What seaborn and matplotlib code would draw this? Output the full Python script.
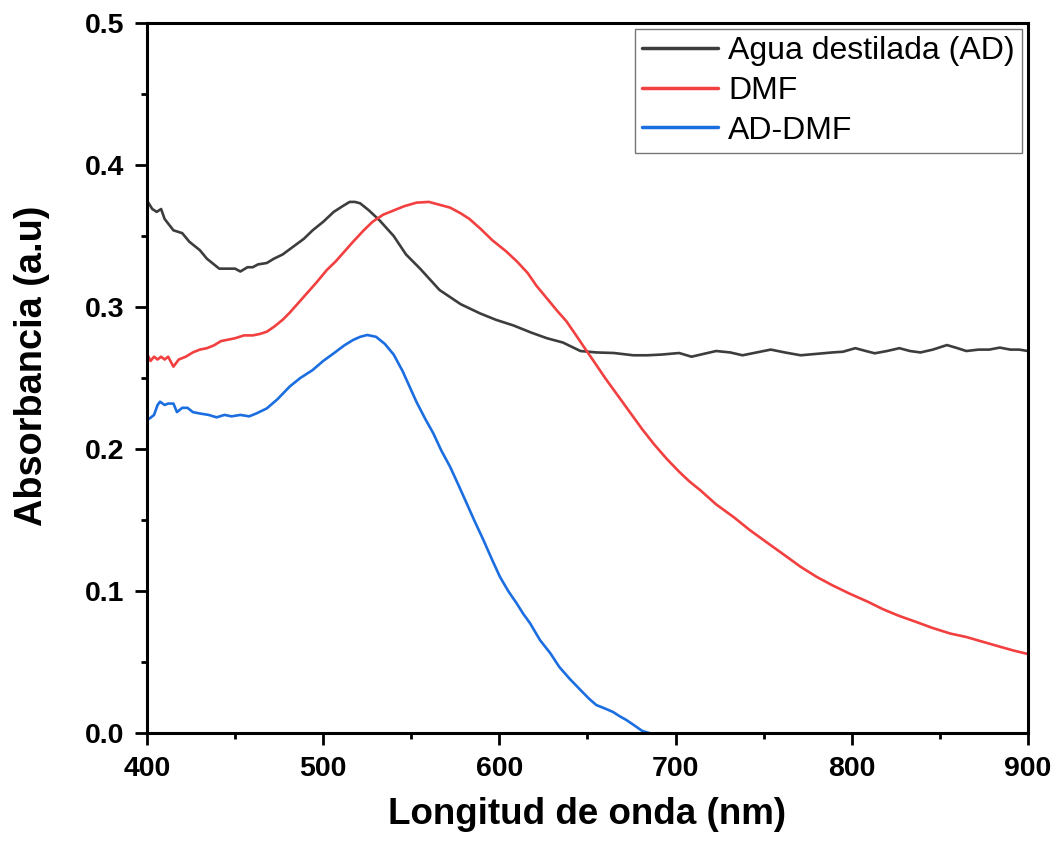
import numpy as np
import pandas as pd
import matplotlib
matplotlib.use("Agg")
import matplotlib.pyplot as plt
from matplotlib.ticker import MultipleLocator
import seaborn as sns

# ---- data ----
wl_ad = [400, 403, 405.5, 408, 410, 415, 420, 424, 430, 434, 438, 441, 446, 450, 453, 457,
         460, 463, 468, 472, 477, 483, 489, 494, 500, 506, 511, 515, 518, 521, 526, 532,
         540, 547, 555, 566, 578, 589, 598, 608, 618, 627, 636, 646, 655, 665, 676, 684,
         692, 702, 709, 716, 723, 731, 738, 746, 754, 762, 771, 780, 789, 795, 802, 808,
         813, 820, 827, 833, 839, 846, 854, 860, 865, 872, 878, 884, 890, 895, 900]
abs_ad = [0.375, 0.369, 0.367, 0.369, 0.362, 0.354, 0.352, 0.346, 0.340, 0.334, 0.330, 0.327,
          0.327, 0.327, 0.325, 0.328, 0.328, 0.330, 0.331, 0.334, 0.337, 0.3425, 0.348, 0.354,
          0.360, 0.367, 0.371, 0.374, 0.374, 0.373, 0.368, 0.361, 0.350, 0.337, 0.327, 0.312,
          0.302, 0.2955, 0.291, 0.287, 0.282, 0.278, 0.275, 0.269, 0.268, 0.2676, 0.266, 0.266,
          0.2665, 0.2676, 0.265, 0.267, 0.269, 0.268, 0.266, 0.268, 0.270, 0.268, 0.266, 0.267,
          0.268, 0.2685, 0.271, 0.269, 0.2674, 0.269, 0.271, 0.269, 0.268, 0.270, 0.2732, 0.271,
          0.269, 0.270, 0.270, 0.2714, 0.270, 0.270, 0.269]

wl_dmf = [400, 402, 404, 406, 408, 410, 412, 415, 418, 422, 426, 430, 434, 438, 442, 446,
          450, 455, 460, 464, 468, 472, 477, 481, 486, 491, 496, 502, 507, 512, 517, 523,
          528, 534, 540, 546, 553, 560, 566, 572, 578, 583, 589, 596, 604, 610, 616, 621,
          627, 633, 638, 643, 649, 654, 660, 667, 674, 681, 688, 695, 702, 708, 714, 723,
          733, 742, 752, 761, 771, 780, 789, 799, 809, 818, 827, 837, 846, 856, 865, 875,
          884, 892, 900]
abs_dmf = [0.267, 0.262, 0.265, 0.263, 0.265, 0.263, 0.265, 0.258, 0.263, 0.265, 0.268, 0.270,
           0.271, 0.273, 0.276, 0.277, 0.278, 0.280, 0.280, 0.281, 0.2826, 0.286, 0.291, 0.296,
           0.303, 0.310, 0.317, 0.326, 0.332, 0.339, 0.346, 0.354, 0.360, 0.365, 0.368, 0.371,
           0.3735, 0.374, 0.372, 0.370, 0.366, 0.362, 0.3554, 0.347, 0.339, 0.332, 0.324, 0.315,
           0.306, 0.297, 0.290, 0.281, 0.270, 0.261, 0.250, 0.238, 0.226, 0.214, 0.203, 0.193,
           0.184, 0.177, 0.171, 0.161, 0.152, 0.143, 0.134, 0.126, 0.117, 0.110, 0.104, 0.098,
           0.0925, 0.087, 0.0824, 0.078, 0.0739, 0.070, 0.0676, 0.064, 0.0608, 0.058, 0.0556]

wl_mix = [400, 402, 404, 406, 407.4, 410, 412, 415, 417, 420, 423, 426, 430, 435, 439.5, 444,
          448, 453, 458, 462, 468, 474, 481, 487, 494, 500, 506, 512, 517, 521, 525, 530,
          535, 540, 545, 549, 553, 558, 562.5, 567, 572, 577, 581.4, 586, 590.9, 595.5, 600.3,
          605, 609.8, 613.5, 617.4, 623, 629, 634, 640, 646, 651, 655, 660, 664.5, 668, 672,
          677, 681, 685]
abs_mix = [0.2204, 0.222, 0.224, 0.231, 0.2333, 0.231, 0.232, 0.232, 0.226, 0.229, 0.229, 0.226,
           0.225, 0.224, 0.2223, 0.224, 0.223, 0.224, 0.223, 0.225, 0.2286, 0.235, 0.244, 0.250,
           0.2556, 0.262, 0.2674, 0.273, 0.2768, 0.279, 0.2803, 0.279, 0.274, 0.2665, 0.255,
           0.244, 0.233, 0.221, 0.211, 0.199, 0.1875, 0.174, 0.1618, 0.149, 0.136, 0.123, 0.110,
           0.100, 0.0913, 0.084, 0.0773, 0.0655, 0.056, 0.0465, 0.038, 0.0303, 0.024, 0.0197,
           0.0172, 0.0148, 0.012, 0.0092, 0.005, 0.0015, 0.0]

labels = ["Agua destilada (AD)", "DMF", "AD-DMF"]
colors = ["#3d3d3d", "#f23f3f", "#1b6ee0"]
x_ticks = [400, 500, 600, 700, 800, 900]
y_ticks = [0.0, 0.1, 0.2, 0.3, 0.4, 0.5]

df = pd.concat([
    pd.DataFrame({"wl": wl_ad, "abs": abs_ad, "serie": labels[0]}),
    pd.DataFrame({"wl": wl_dmf, "abs": abs_dmf, "serie": labels[1]}),
    pd.DataFrame({"wl": wl_mix, "abs": abs_mix, "serie": labels[2]}),
], ignore_index=True)

sns.set_style("ticks")
plt.rcParams["font.family"] = ["Liberation Sans", "DejaVu Sans"]
plt.rcParams["text.color"] = "black"
plt.rcParams["axes.labelcolor"] = "black"
plt.rcParams["xtick.color"] = "black"
plt.rcParams["ytick.color"] = "black"

fig = plt.figure(figsize=(10.56, 8.48), dpi=100)
ax = fig.add_axes([147 / 1056, 1 - 733 / 848, (1028 - 147) / 1056, (733 - 23) / 848])

sns.lineplot(data=df, x="wl", y="abs", hue="serie", hue_order=labels,
             palette=dict(zip(labels, colors)), linewidth=1.9, ax=ax,
             estimator=None, sort=False)

ax.set_xlim(400, 900)
ax.set_ylim(0, 0.5)
ax.set_xticks(x_ticks)
ax.set_yticks(y_ticks)
ax.set_xticklabels([str(t) for t in x_ticks])
ax.set_yticklabels([f"{t:.1f}" for t in y_ticks])
ax.xaxis.set_minor_locator(MultipleLocator(50))
ax.yaxis.set_minor_locator(MultipleLocator(0.05))

for s in ax.spines.values():
    s.set_linewidth(2.2)
    s.set_color("black")
ax.tick_params(which="major", direction="out", length=8.5, width=2.0, pad=8,
               labelsize=20.5, top=False, right=False, colors="black")
ax.tick_params(which="minor", direction="out", length=4.5, width=2.0,
               top=False, right=False, colors="black")
for lab in ax.get_xticklabels() + ax.get_yticklabels():
    lab.set_fontweight("bold")

ax.set_xlabel("Longitud de onda (nm)", fontsize=26.5, fontweight="bold",
              labelpad=11, color="black")
ax.set_ylabel("Absorbancia (a.u)", fontsize=27.3, fontweight="bold", color="black")
ax.yaxis.set_label_coords(-0.11, (733 - 365.5) / (733 - 23))

leg = ax.legend(loc="upper right", fontsize=23, frameon=True, fancybox=False,
                handlelength=2.4, handletextpad=0.3, labelspacing=0.3,
                borderpad=0.22, borderaxespad=0.2, title=None)
leg.get_frame().set_edgecolor("#555555")
leg.get_frame().set_linewidth(1.0)
for line in leg.get_lines():
    line.set_linewidth(2.5)
for t in leg.get_texts():
    t.set_color("black")

fig.savefig("out.png", dpi=100)
